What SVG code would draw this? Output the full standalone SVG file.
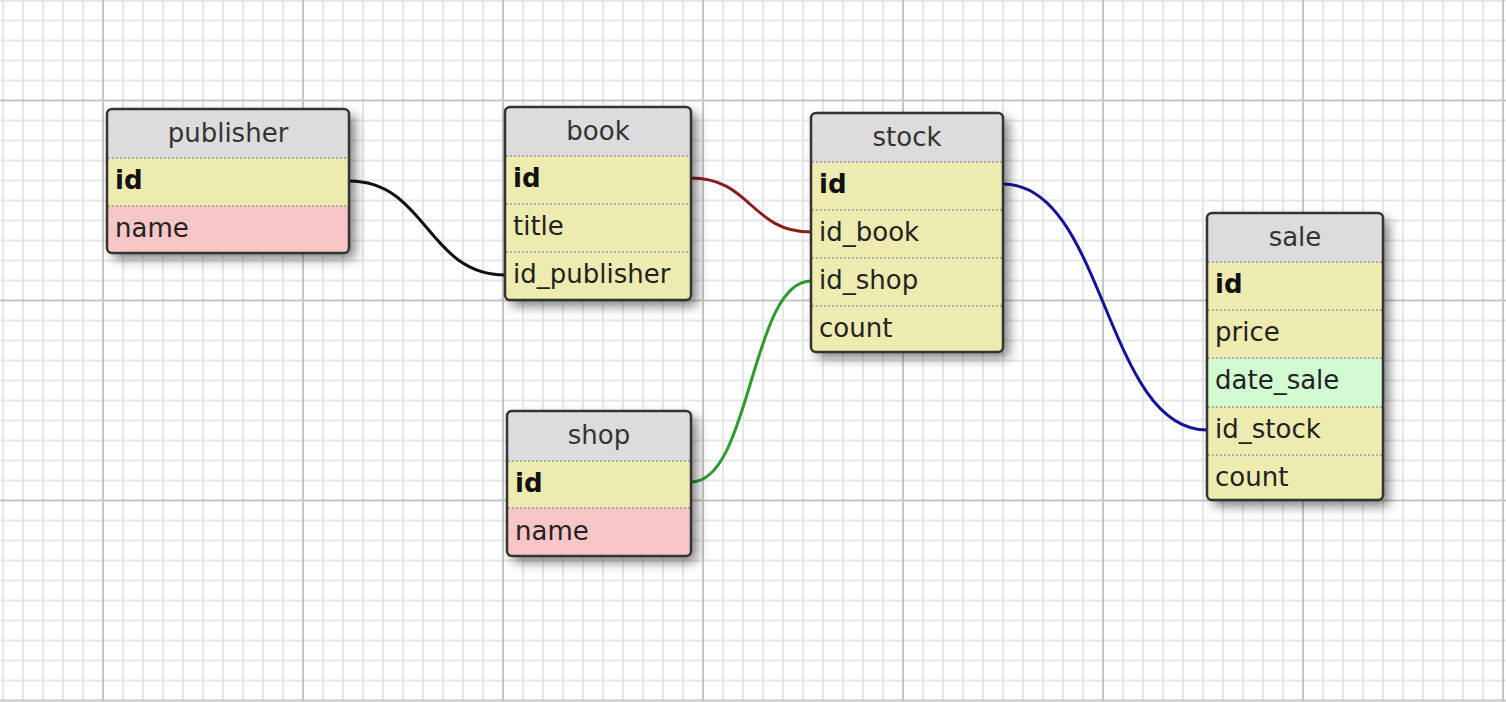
<svg xmlns="http://www.w3.org/2000/svg" width="1506" height="702" viewBox="0 0 1506 702">
<style>
.minor{stroke:#e6e6e6;stroke-width:2}
.major{stroke:#c6c6c6;stroke-width:2}
.hdr{fill:#dcdcdc}
.fk{fill:#edebb0}
.pk{fill:#edebb0}
.txt{fill:#f8c6c6}
.dt{fill:#d2fbd2}
.sep{stroke:#999;stroke-width:1.5;stroke-dasharray:2 2}
.outline{fill:none;stroke:#333;stroke-width:2.5}
.title{font-family:"DejaVu Sans",sans-serif;font-size:26px;fill:#333;text-anchor:middle}
.col{font-family:"DejaVu Sans",sans-serif;font-size:26px;fill:#222}
.b{font-weight:bold;fill:#111}
.rel{fill:none;stroke-width:3}
</style>
<defs>
<filter id="sh" x="-20%" y="-20%" width="150%" height="150%">
<feDropShadow dx="6" dy="6" stdDeviation="6" flood-color="#000" flood-opacity="0.5"/>
</filter>
<clipPath id="c-pub"><rect x="107" y="109" width="242" height="144" rx="5"/></clipPath>
<clipPath id="c-book"><rect x="505" y="107" width="186" height="193" rx="5"/></clipPath>
<clipPath id="c-stock"><rect x="811" y="113" width="192" height="239" rx="5"/></clipPath>
<clipPath id="c-sale"><rect x="1207" y="213" width="176" height="287" rx="5"/></clipPath>
<clipPath id="c-shop"><rect x="507" y="411" width="184" height="145" rx="5"/></clipPath>
</defs>
<rect x="0" y="0" width="1506" height="702" fill="#fff"/>
<g id="grid">
<path class="minor" d="M3,0V702M23,0V702M43,0V702M63,0V702M83,0V702M123,0V702M143,0V702M163,0V702M183,0V702M203,0V702M223,0V702M243,0V702M263,0V702M283,0V702M323,0V702M343,0V702M363,0V702M383,0V702M403,0V702M423,0V702M443,0V702M463,0V702M483,0V702M523,0V702M543,0V702M563,0V702M583,0V702M603,0V702M623,0V702M643,0V702M663,0V702M683,0V702M723,0V702M743,0V702M763,0V702M783,0V702M803,0V702M823,0V702M843,0V702M863,0V702M883,0V702M923,0V702M943,0V702M963,0V702M983,0V702M1003,0V702M1023,0V702M1043,0V702M1063,0V702M1083,0V702M1123,0V702M1143,0V702M1163,0V702M1183,0V702M1203,0V702M1223,0V702M1243,0V702M1263,0V702M1283,0V702M1323,0V702M1343,0V702M1363,0V702M1383,0V702M1403,0V702M1423,0V702M1443,0V702M1463,0V702M1483,0V702"/>
<path class="minor" d="M0,1H1506M0,20.5H1506M0,40.5H1506M0,60.5H1506M0,80.5H1506M0,120.5H1506M0,140.5H1506M0,160.5H1506M0,180.5H1506M0,200.5H1506M0,220.5H1506M0,240.5H1506M0,260.5H1506M0,280.5H1506M0,320.5H1506M0,340.5H1506M0,360.5H1506M0,380.5H1506M0,400.5H1506M0,420.5H1506M0,440.5H1506M0,460.5H1506M0,480.5H1506M0,520.5H1506M0,540.5H1506M0,560.5H1506M0,580.5H1506M0,600.5H1506M0,620.5H1506M0,640.5H1506M0,660.5H1506M0,680.5H1506"/>
<path class="major" d="M103,0V702M303,0V702M503,0V702M703,0V702M903,0V702M1103,0V702M1303,0V702M1503,0V702M0,100.5H1506M0,300.5H1506M0,500.5H1506M0,700.5H1506"/>
</g>
<g id="connectors">
<path class="rel" stroke="#111" d="M349,181 C427,181 427,275 505,275"/>
<path class="rel" stroke="#8a1c1c" d="M691,178 C751,178 751,232 811,232"/>
<path class="rel" stroke="#2f9a2f" d="M691,482 C751,482 751,281 811,281"/>
<path class="rel" stroke="#14149a" d="M1003,184 C1105,184 1105,430 1207,430"/>
</g>
<g id="publisher">
<rect x="107" y="109" width="242" height="144" rx="5" fill="#ddd" filter="url(#sh)"/>
<g clip-path="url(#c-pub)">
<rect class="hdr" x="107" y="109" width="242" height="49"/>
<rect class="pk" x="107" y="158" width="242" height="48"/>
<rect class="txt" x="107" y="206" width="242" height="48"/>
</g>
<path class="sep" d="M108,158H348M108,206H348"/>
<rect class="outline" x="107" y="109" width="242" height="144" rx="5"/>
<text class="title" x="228" y="142">publisher</text>
<text class="col b" x="115" y="189">id</text>
<text class="col" x="115" y="237">name</text>
</g>
<g id="book">
<rect x="505" y="107" width="186" height="193" rx="5" fill="#ddd" filter="url(#sh)"/>
<g clip-path="url(#c-book)">
<rect class="hdr" x="505" y="107" width="186" height="49"/>
<rect class="pk" x="505" y="156" width="186" height="145"/>
</g>
<path class="sep" d="M506,156H690M506,204H690M506,252H690"/>
<rect class="outline" x="505" y="107" width="186" height="193" rx="5"/>
<text class="title" x="598" y="140">book</text>
<text class="col b" x="513" y="187">id</text>
<text class="col" x="513" y="235">title</text>
<text class="col" x="513" y="283">id_publisher</text>
</g>
<g id="stock">
<rect x="811" y="113" width="192" height="239" rx="5" fill="#ddd" filter="url(#sh)"/>
<g clip-path="url(#c-stock)">
<rect class="hdr" x="811" y="113" width="192" height="49"/>
<rect class="pk" x="811" y="162" width="192" height="191"/>
</g>
<path class="sep" d="M812,162H1002M812,210H1002M812,258H1002M812,306H1002"/>
<rect class="outline" x="811" y="113" width="192" height="239" rx="5"/>
<text class="title" x="907" y="146">stock</text>
<text class="col b" x="819" y="193">id</text>
<text class="col" x="819" y="241">id_book</text>
<text class="col" x="819" y="289">id_shop</text>
<text class="col" x="819" y="337">count</text>
</g>
<g id="shop">
<rect x="507" y="411" width="184" height="145" rx="5" fill="#ddd" filter="url(#sh)"/>
<g clip-path="url(#c-shop)">
<rect class="hdr" x="507" y="411" width="184" height="50"/>
<rect class="pk" x="507" y="461" width="184" height="47"/>
<rect class="txt" x="507" y="508" width="184" height="48"/>
</g>
<path class="sep" d="M508,461H690M508,508H690"/>
<rect class="outline" x="507" y="411" width="184" height="145" rx="5"/>
<text class="title" x="599" y="444">shop</text>
<text class="col b" x="515" y="492">id</text>
<text class="col" x="515" y="540">name</text>
</g>
<g id="sale">
<rect x="1207" y="213" width="176" height="287" rx="5" fill="#ddd" filter="url(#sh)"/>
<g clip-path="url(#c-sale)">
<rect class="hdr" x="1207" y="213" width="176" height="49"/>
<rect class="pk" x="1207" y="262" width="176" height="96"/>
<rect class="dt" x="1207" y="358" width="176" height="49"/>
<rect class="fk" x="1207" y="407" width="176" height="94"/>
</g>
<path class="sep" d="M1208,262H1382M1208,310H1382M1208,358H1382M1208,407H1382M1208,455H1382"/>
<rect class="outline" x="1207" y="213" width="176" height="287" rx="5"/>
<text class="title" x="1295" y="246">sale</text>
<text class="col b" x="1215" y="293">id</text>
<text class="col" x="1215" y="341">price</text>
<text class="col" x="1215" y="389">date_sale</text>
<text class="col" x="1215" y="438">id_stock</text>
<text class="col" x="1215" y="486">count</text>
</g>
</svg>
